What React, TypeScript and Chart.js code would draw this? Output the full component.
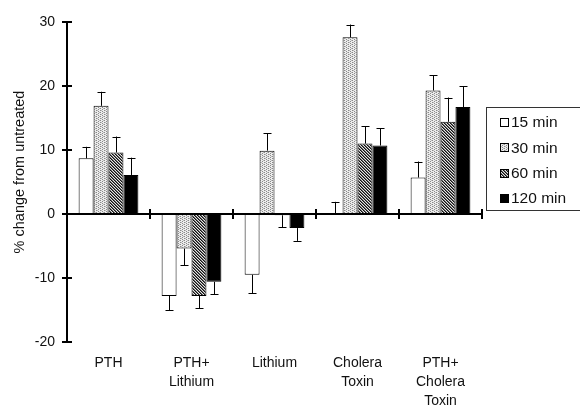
import React, { useEffect, useRef } from "react";
import { Chart, registerables } from "chart.js";

Chart.register(...registerables);

const categories: string[][] = [
  ["PTH"],
  ["PTH+", "Lithium"],
  ["Lithium"],
  ["Cholera", "Toxin"],
  ["PTH+", "Cholera", "Toxin"],
];
const seriesLabels = ["15 min", "30 min", "60 min", "120 min"];

const values15 = [8.7, -12.8, -9.5, 0, 5.7];
const values30 = [16.9, -5.4, 9.9, 27.6, 19.3];
const values60 = [9.6, -12.8, -0.2, 11.0, 14.4];
const values120 = [6.1, -10.6, -2.2, 10.7, 16.7];

// signed error extents (added to the value to give the error-bar end)
const err15 = [1.8, -2.2, -2.9, 1.9, 2.5];
const err30 = [2.2, -2.6, 2.7, 2.0, 2.4];
const err60 = [2.5, -1.9, -1.9, 2.75, 3.8];
const err120 = [2.7, -1.9, -2.0, 2.7, 3.3];

const yTicks = [-20, -10, 0, 10, 20, 30];
const yTitle = "% change from untreated";

const FONT = "'Liberation Sans', Arial, Helvetica, sans-serif";

function makeDotPattern(ctx: CanvasRenderingContext2D): CanvasPattern | string {
  const c = document.createElement("canvas");
  c.width = 4;
  c.height = 4;
  const p = c.getContext("2d")!;
  p.fillStyle = "#ececec";
  p.fillRect(0, 0, 4, 4);
  p.fillStyle = "#8a8a8a";
  p.fillRect(0, 0, 1, 1);
  p.fillRect(2, 1, 1, 1);
  p.fillRect(0, 2, 1, 1);
  p.fillRect(2, 3, 1, 1);
  p.fillStyle = "#bdbdbd";
  p.fillRect(3, 0, 1, 1);
  p.fillRect(1, 2, 1, 1);
  return ctx.createPattern(c, "repeat") || "#ccc";
}

function makeHatchPattern(ctx: CanvasRenderingContext2D): CanvasPattern | string {
  const c = document.createElement("canvas");
  c.width = 3;
  c.height = 3;
  const p = c.getContext("2d")!;
  p.fillStyle = "#e6e6e6";
  p.fillRect(0, 0, 3, 3);
  for (let i = 0; i < 3; i++) {
    p.fillStyle = "#111";
    p.fillRect(i, i, 1, 1);
    p.fillStyle = "#6a6a6a";
    p.fillRect((i + 1) % 3, i, 1, 1);
  }
  return ctx.createPattern(c, "repeat") || "#555";
}

export default function App() {
  const ref = useRef<HTMLCanvasElement | null>(null);

  useEffect(() => {
    const canvas = ref.current;
    if (!canvas) return;
    const ctx = canvas.getContext("2d")!;
    const dot = makeDotPattern(ctx);
    const hatch = makeHatchPattern(ctx);
    const fills: (CanvasPattern | string)[] = ["#ffffff", dot, hatch, "#000000"];
    const seriesValues = [values15, values30, values60, values120];
    const seriesErrs = [err15, err30, err60, err120];

    const customPlugin = {
      id: "customAxes",
      afterDatasetsDraw(chart: any) {
        const { ctx: c, chartArea, scales } = chart;
        const xs = scales.x;
        const ys = scales.y;
        c.save();
        // error bars
        chart.data.datasets.forEach((ds: any, di: number) => {
          const meta = chart.getDatasetMeta(di);
          meta.data.forEach((el: any, i: number) => {
            const v = seriesValues[di][i];
            const e = seriesErrs[di][i];
            const y0 = ys.getPixelForValue(v);
            const y1 = ys.getPixelForValue(v + e);
            const xc = Math.round(el.x) + 0.5;
            c.strokeStyle = "#000";
            c.lineWidth = 1;
            c.beginPath();
            c.moveTo(xc, y0);
            c.lineTo(xc, y1);
            c.moveTo(xc - 4, Math.round(y1) + 0.5);
            c.lineTo(xc + 4, Math.round(y1) + 0.5);
            c.stroke();
          });
        });
        // zero line
        const zy = ys.getPixelForValue(0);
        c.strokeStyle = "#000";
        c.lineWidth = 2;
        c.beginPath();
        c.moveTo(chartArea.left, zy);
        c.lineTo(chartArea.right, zy);
        c.stroke();
        // group boundary ticks
        const spacing = xs.getPixelForValue(1) - xs.getPixelForValue(0);
        for (let i = 0; i < categories.length; i++) {
          const bx = xs.getPixelForValue(i) + spacing / 2;
          c.beginPath();
          c.moveTo(bx, zy - 5);
          c.lineTo(bx, zy + 5);
          c.stroke();
        }
        // y axis line
        c.beginPath();
        c.moveTo(chartArea.left, ys.getPixelForValue(yTicks[yTicks.length - 1]) - 1);
        c.lineTo(chartArea.left, ys.getPixelForValue(yTicks[0]) + 1);
        c.stroke();
        // y tick marks
        yTicks.forEach((t) => {
          const ty = ys.getPixelForValue(t);
          c.beginPath();
          c.moveTo(chartArea.left - 5, ty);
          c.lineTo(chartArea.left + 5, ty);
          c.stroke();
        });
        // y title
        c.save();
        c.translate(20, 172);
        c.rotate(-Math.PI / 2);
        c.fillStyle = "#111";
        c.font = `14.5px ${FONT}`;
        c.textAlign = "center";
        c.textBaseline = "middle";
        c.fillText(yTitle, 0, 0);
        c.restore();
        // legend
        c.lineWidth = 1;
        c.strokeStyle = "#333";
        c.strokeRect(486.5, 107.5, 110, 103);
        c.font = `15.5px ${FONT}`;
        c.textAlign = "left";
        c.textBaseline = "middle";
        seriesLabels.forEach((lab, i) => {
          const cy = 122 + i * 25.3;
          c.fillStyle = fills[i] as any;
          c.fillRect(500.5, Math.round(cy) - 3.5, 8, 8);
          c.strokeStyle = "#000";
          c.strokeRect(500.5, Math.round(cy) - 3.5, 8, 8);
          c.fillStyle = "#111";
          c.fillText(lab, 511, cy + 1);
        });
        c.restore();
      },
    };

    const chart = new Chart(canvas, {
      type: "bar",
      data: {
        labels: categories,
        datasets: seriesLabels.map((lab, i) => ({
          label: lab,
          data: seriesValues[i],
          backgroundColor: fills[i] as any,
          borderColor: "#000",
          borderWidth: 1,
          categoryPercentage: 0.72,
          barPercentage: 1.0,
        })),
      },
      options: {
        responsive: false,
        animation: false,
        layout: { padding: { top: 22, right: 98, left: 0, bottom: 0 } },
        plugins: {
          legend: { display: false },
          tooltip: { enabled: false },
        },
        scales: {
          x: {
            type: "category",
            grid: { display: false, drawTicks: false },
            border: { display: false },
            ticks: {
              color: "#111",
              font: { family: FONT, size: 14, lineHeight: 1.38 },
              padding: 11,
              maxRotation: 0,
              autoSkip: false,
            },
            afterFit: (s: any) => {
              s.height = 69;
            },
          },
          y: {
            min: -20,
            max: 30,
            grid: { display: false, drawTicks: false },
            border: { display: false },
            ticks: {
              stepSize: 10,
              color: "#111",
              font: { family: FONT, size: 14 },
              padding: 12,
            },
            afterFit: (s: any) => {
              s.width = 67;
            },
          },
        },
      },
      plugins: [customPlugin],
    } as any);

    return () => chart.destroy();
  }, []);

  return (
    <div style={{ position: "absolute", left: 0, top: 0, width: 580, height: 411, background: "#fff" }}>
      <canvas ref={ref} width={580} height={411} style={{ display: "block" }} />
    </div>
  );
}
